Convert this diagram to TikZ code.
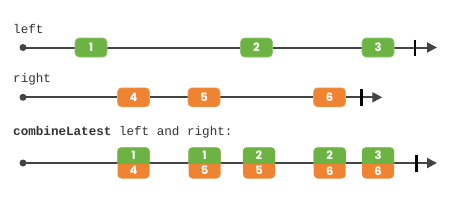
\documentclass[tikz,border=0pt]{standalone}
\usepackage{fontspec}
\setmonofont{Liberation Mono}
\newfontfamily\numfont{Poppins}
\usetikzlibrary{arrows.meta}
\definecolor{mgreen}{HTML}{6DB344}
\definecolor{morange}{HTML}{EE8431}
\definecolor{lgray}{HTML}{444444}
\definecolor{tgray}{HTML}{333333}
\tikzset{
  timeline/.style={draw=lgray, line width=2pt, -{Triangle[length=10pt,width=10pt]}},
  startdot/.style={circle, fill=lgray, inner sep=0pt, minimum size=7pt},
  endtick/.style={draw=black, line width=2.5pt},
  marble/.style={rectangle, rounded corners=4pt, minimum width=32pt, minimum height=19pt,
    inner sep=0pt, text=white, font=\numfont\bfseries\fontsize{11.5}{11.5}\selectfont},
  gmarble/.style={marble, fill=mgreen, draw=mgreen!75!white, line width=0.6pt},
  omarble/.style={marble, fill=morange, draw=morange!75!white, line width=0.6pt},
  combo/.style={rectangle, rounded corners=4pt, minimum width=32pt, minimum height=31pt, inner sep=0pt,
    fill=morange},
  num/.style={text=white, inner sep=0pt, font=\numfont\bfseries\fontsize{11.5}{11.5}\selectfont},
  lbl/.style={anchor=base west, inner sep=0pt, text=tgray, font=\ttfamily\fontsize{12.6}{13}\selectfont},
}
\begin{document}
\begin{tikzpicture}[x=1pt,y=-1pt]
\useasboundingbox (0,0) rectangle (468,210);
% labels
\node[lbl] (lleft) at (13,33) {left};
\node[lbl] (lright) at (13,82.3) {right};
\node[lbl] (lcomb) at (13,135.7) {\textbf{combineLatest} left and right:};
% row 1
\coordinate (s1) at (23,47.5);
\coordinate (e1) at (437,47.5);
\draw[timeline] (s1) -- (e1);
\node[startdot] (d1) at (s1) {};
\node[gmarble] (m1) at (91,47.5) {1};
\node[gmarble] (m2) at (256.5,47.5) {2};
\node[gmarble] (m3) at (378,47.5) {3};
\coordinate (t1a) at (415,39.5);
\coordinate (t1b) at (415,56);
\draw[endtick] (t1a) -- (t1b);
% row 2
\coordinate (s2) at (23,97.3);
\coordinate (e2) at (382.3,97.3);
\draw[timeline] (s2) -- (e2);
\node[startdot] (d2) at (s2) {};
\node[omarble] (m4) at (133.5,97.3) {4};
\node[omarble] (m5) at (204,97.3) {5};
\node[omarble] (m6) at (329.5,97.3) {6};
\coordinate (t2a) at (361.7,89.3);
\coordinate (t2b) at (361.7,105.8);
\draw[endtick] (t2a) -- (t2b);
% row 3
\coordinate (s3) at (23,163);
\coordinate (e3) at (437,163);
\draw[timeline] (s3) -- (e3);
\node[startdot] (d3) at (s3) {};
\foreach \name/\xx/\a/\b in {c1/133.5/1/4, c2/204.5/1/5, c3/259/2/5, c4/329.7/2/6, c5/378/3/6}{
  \node[combo] (\name) at (\xx,163) {};
  \begin{scope}
    \clip (\name.north west) rectangle ([yshift=-0.3pt]\name.east);
    \fill[mgreen, rounded corners=4pt] (\name.north west) rectangle (\name.south east);
  \end{scope}
  \node[num] (\name t) at ([yshift=7.75pt]\name.center) {\a};
  \node[num] (\name b) at ([yshift=-7.75pt]\name.center) {\b};
}
\coordinate (t3a) at (416.3,155);
\coordinate (t3b) at (416.3,171.5);
\draw[endtick] (t3a) -- (t3b);
\end{tikzpicture}
\end{document}
